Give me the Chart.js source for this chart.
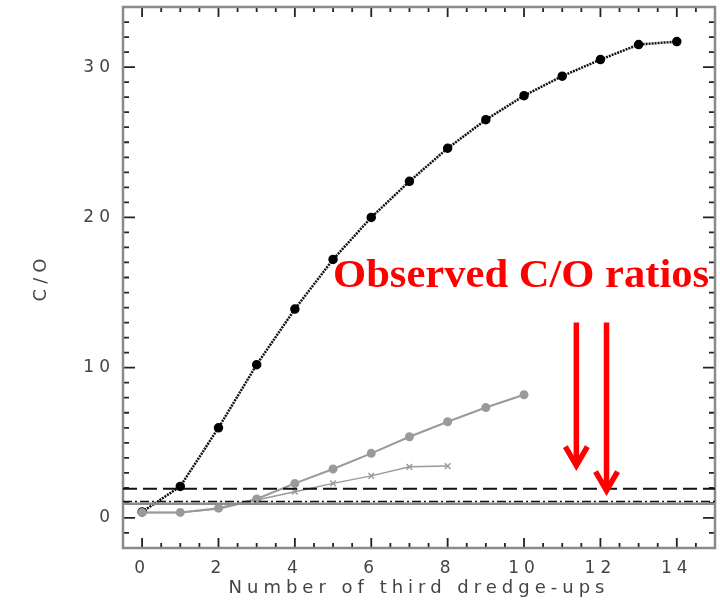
<!DOCTYPE html>
<html>
<head>
<meta charset="utf-8">
<script src="https://cdn.jsdelivr.net/npm/chart.js@4.4.1/dist/chart.umd.min.js"></script>
<style>
  html, body { margin: 0; padding: 0; background: #fff; }
</style>
</head>
<body>
<canvas id="chart" width="720" height="602"></canvas>
<script>
// number of third dredge-ups
var dredgeUps = [0, 1, 2, 3, 4, 5, 6, 7, 8, 9, 10, 11, 12, 13, 14];
// C/O ratio for the three models
var coHigh = [0.4, 2.1, 6.0, 10.2, 13.9, 17.2, 20.0, 22.4, 24.6, 26.5, 28.1, 29.4, 30.5, 31.5, 31.7];
var coMid = [0.37, 0.37, 0.65, 1.26, 2.3, 3.26, 4.3, 5.4, 6.4, 7.35, 8.2];
var coLow = [0.37, 0.37, 0.6, 1.2, 1.75, 2.3, 2.8, 3.4, 3.45];
// horizontal reference levels: dashed, dash-dot, solid grey
var refLevels = [1.95, 1.1, 0.95];

var xTicks = [0, 2, 4, 6, 8, 10, 12, 14];
var yTicks = [0, 10, 20, 30];
var xMin = -0.5, xMax = 15, yMin = -2, yMax = 34;

// red annotation (in data units)
var noteText = 'Observed C/O ratios';
var noteX = 5.0, noteY = 15.35;
var arrowX = [11.37, 12.16];
var arrowTop = [13.0, 13.0];
var arrowTip = [3.35, 1.69];

function toPoints(xs, ys) {
  return ys.map(function (y, i) { return { x: xs[i], y: y }; });
}
function flatLine(level) {
  return [{ x: xMin, y: level }, { x: xMax, y: level }];
}

var frame = {
  id: 'frame',
  beforeDraw: function (chart) {
    chart.ctx.letterSpacing = '5px';
  },
  beforeDatasetsDraw: function (chart) {
    var ctx = chart.ctx, a = chart.chartArea;
    var xs = chart.scales.x, ys = chart.scales.y;
    ctx.save();
    ctx.strokeStyle = '#222';
    ctx.lineWidth = 1.8;
    ctx.beginPath();
    for (var v = yMin; v <= yMax; v++) {
      var len = v % 10 === 0 ? 12 : 6;
      var py = ys.getPixelForValue(v);
      ctx.moveTo(a.left, py); ctx.lineTo(a.left + len, py);
      ctx.moveTo(a.right, py); ctx.lineTo(a.right - len, py);
    }
    for (var u = xMin; u <= xMax; u += 0.5) {
      var l2 = u % 2 === 0 ? 10 : 5;
      var px = xs.getPixelForValue(u);
      ctx.moveTo(px, a.bottom); ctx.lineTo(px, a.bottom - l2);
      ctx.moveTo(px, a.top); ctx.lineTo(px, a.top + l2);
    }
    ctx.stroke();
    ctx.strokeStyle = '#8a8a8a';
    ctx.lineWidth = 2.5;
    ctx.strokeRect(a.left, a.top, a.right - a.left, a.bottom - a.top);
    ctx.restore();
  },
  afterDraw: function (chart) {
    var ctx = chart.ctx;
    var xs = chart.scales.x, ys = chart.scales.y;
    ctx.save();
    ctx.letterSpacing = '0px';
    ctx.fillStyle = '#ff0000';
    ctx.font = 'bold 40px "Liberation Serif", "Times New Roman", serif';
    ctx.textBaseline = 'alphabetic';
    var tx = xs.getPixelForValue(noteX), ty = ys.getPixelForValue(noteY);
    var w = ctx.measureText(noteText).width;
    ctx.translate(tx, ty);
    ctx.scale(376 / w, 1);
    ctx.fillText(noteText, 0, 0);
    ctx.restore();

    ctx.save();
    ctx.strokeStyle = '#ff0000';
    ctx.lineWidth = 5.5;
    ctx.lineJoin = 'miter';
    for (var i = 0; i < arrowX.length; i++) {
      var ax = xs.getPixelForValue(arrowX[i]);
      var top = ys.getPixelForValue(arrowTop[i]);
      var tip = ys.getPixelForValue(arrowTip[i]);
      ctx.beginPath();
      ctx.moveTo(ax, top); ctx.lineTo(ax, tip - 3);
      ctx.stroke();
      ctx.beginPath();
      ctx.moveTo(ax - 11, tip - 21); ctx.lineTo(ax, tip - 2); ctx.lineTo(ax + 11, tip - 21);
      ctx.stroke();
    }
    ctx.restore();
  }
};

var grey = '#9a9a9a';
var tickFont = { family: '"DejaVu Sans", sans-serif', size: 17 };

new Chart(document.getElementById('chart'), {
  type: 'line',
  data: {
    datasets: [
      { data: flatLine(refLevels[0]), borderColor: '#111', borderWidth: 2, borderDash: [14, 6], pointRadius: 0 },
      { data: flatLine(refLevels[1]), borderColor: '#111', borderWidth: 1.5, borderDash: [9, 3, 2, 3], pointRadius: 0 },
      { data: flatLine(refLevels[2]), borderColor: '#8c8c8c', borderWidth: 2.5, pointRadius: 0 },
      {
        data: toPoints(dredgeUps, coLow), borderColor: grey, borderWidth: 1.5,
        pointStyle: 'crossRot', pointRadius: 4, pointBorderWidth: 1.5, pointBorderColor: grey
      },
      {
        data: toPoints(dredgeUps, coMid), borderColor: grey, borderWidth: 2,
        pointRadius: 3.5, pointBackgroundColor: grey, pointBorderColor: grey
      },
      {
        data: toPoints(dredgeUps, coHigh), borderColor: '#111', borderWidth: 2.5, borderDash: [2, 1],
        pointRadius: 3.5, pointBackgroundColor: '#000', pointBorderColor: '#000'
      }
    ]
  },
  options: {
    responsive: false,
    animation: false,
    events: [],
    layout: { padding: { top: 7, right: 5, left: 0, bottom: 0 }, autoPadding: false },
    plugins: { legend: { display: false }, tooltip: { enabled: false } },
    scales: {
      x: {
        type: 'linear', min: xMin, max: xMax,
        grid: { display: false, drawTicks: false },
        border: { display: false },
        afterBuildTicks: function (s) { s.ticks = xTicks.map(function (v) { return { value: v }; }); },
        afterFit: function (s) { s.height = 54; s.paddingLeft = 0; s.paddingRight = 0; },
        ticks: { autoSkip: false, maxRotation: 0, padding: 10, color: '#444', font: tickFont },
        title: {
          display: true, text: 'Number of third dredge-ups', color: '#444',
          font: { family: '"DejaVu Sans", sans-serif', size: 18 }, padding: { top: 0, bottom: 3 }
        }
      },
      y: {
        min: yMin, max: yMax,
        grid: { display: false, drawTicks: false },
        border: { display: false },
        afterBuildTicks: function (s) { s.ticks = yTicks.map(function (v) { return { value: v }; }); },
        afterFit: function (s) { s.width = 123; s.paddingTop = 0; s.paddingBottom = 0; },
        ticks: { padding: 8, color: '#444', font: tickFont },
        title: {
          display: true, text: 'C/O', color: '#444',
          font: { family: '"DejaVu Sans", sans-serif', size: 18 }, padding: { top: 31, bottom: 0 }
        }
      }
    }
  },
  plugins: [frame]
});
</script>
</body>
</html>
